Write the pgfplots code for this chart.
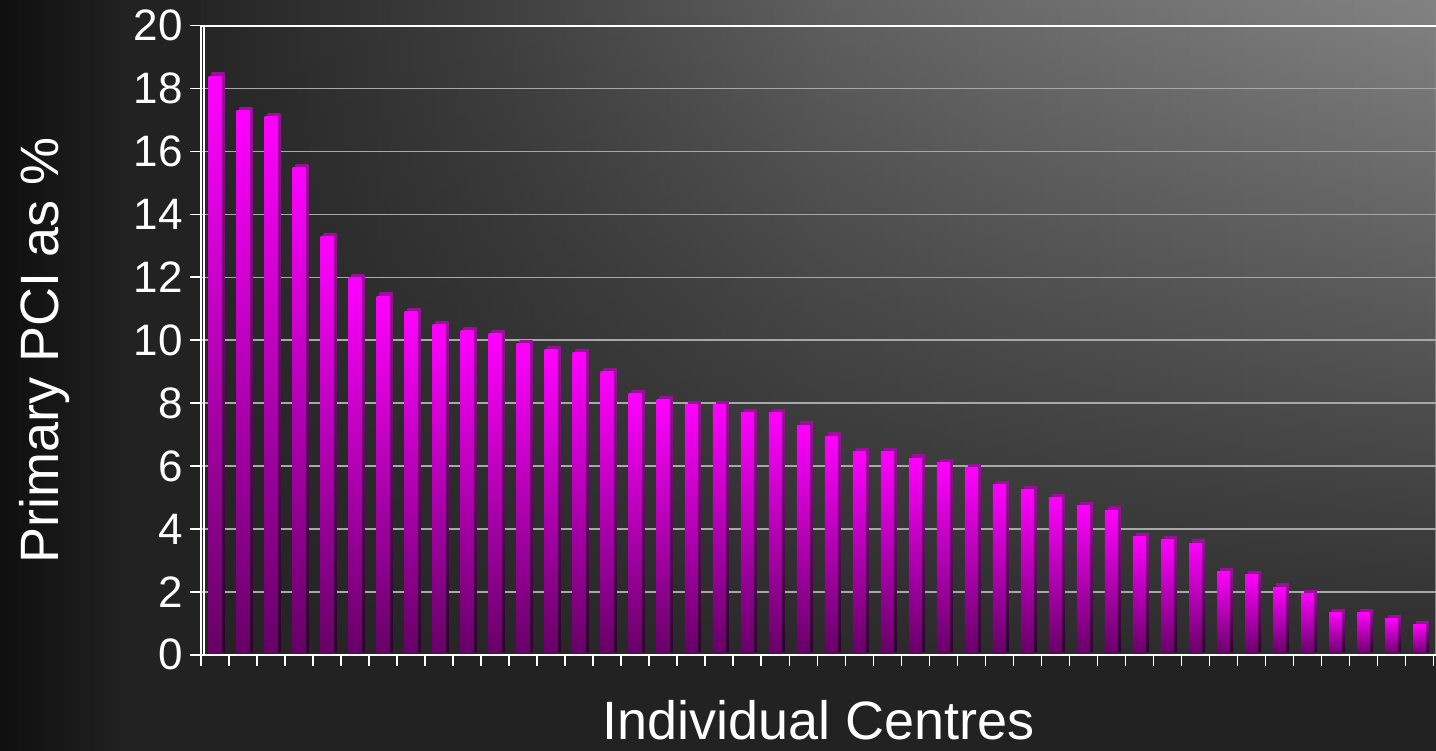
\documentclass[border=0pt]{standalone}
\usepackage{pgfplots}
\pgfplotsset{compat=1.18}
\usepackage{pgfplotstable}
\usetikzlibrary{fadings}
\usepackage{fontspec}
\setmainfont{Liberation Sans}

\definecolor{pagebg}{HTML}{222222}
\definecolor{edgedark}{HTML}{0F0F0F}
\definecolor{gridgray}{HTML}{A8A8A8}
\definecolor{barhi}{HTML}{FF00FF}
\definecolor{barmid}{HTML}{C200C2}
\definecolor{barlo}{HTML}{660066}
\definecolor{capc}{HTML}{9A109A}
\definecolor{sidelo}{HTML}{2A002A}
\definecolor{hA}{HTML}{262626}
\definecolor{hB}{HTML}{404040}
\definecolor{hC}{HTML}{606060}
\definecolor{hD}{HTML}{6C6C6C}
\definecolor{hE}{HTML}{838383}
\definecolor{lowshade}{HTML}{242424}

% light from the right, darker towards the floor
\pgfdeclarehorizontalshading{hglow}{100bp}{color(0bp)=(hA); color(25bp)=(hA); color(37bp)=(hB); color(50.5bp)=(hC); color(58bp)=(hD); color(75bp)=(hE); color(100bp)=(hE)}
\tikzfading[name=lowdark, top color=transparent!100, middle color=transparent!90, bottom color=transparent!10]

% primary PCI share per centre, sorted
\pgfplotstableread{
x  pct
1  18.4
2  17.3
3  17.1
4  15.5
5  13.3
6  12.0
7  11.4
8  10.9
9  10.5
10 10.3
11 10.2
12 9.9
13 9.7
14 9.6
15 9.0
16 8.3
17 8.1
18 7.95
19 7.95
20 7.7
21 7.7
22 7.3
23 6.95
24 6.45
25 6.45
26 6.25
27 6.1
28 5.95
29 5.4
30 5.25
31 5.0
32 4.75
33 4.6
34 3.75
35 3.65
36 3.55
37 2.65
38 2.55
39 2.15
40 1.95
41 1.35
42 1.35
43 1.15
44 0.95
}\centres

\begin{document}
\begin{tikzpicture}
\useasboundingbox (-100.5pt,-48pt) rectangle (617.5pt,327.35pt);
\fill[pagebg] (-100.5pt,-48pt) rectangle (617.5pt,327.35pt);
\shade[left color=edgedark,right color=pagebg] (-100.5pt,-48pt) rectangle (-35pt,327.35pt);
\shade[shading=hglow] (0pt,0pt) rectangle (617.5pt,327.35pt);
\fill[lowshade, path fading=lowdark] (0pt,0pt) rectangle (617.5pt,327.35pt);
\begin{axis}[
    at={(0pt,0pt)}, anchor=south west,
    scale only axis,
    width=618pt, height=314.5pt,
    xmin=0.5, xmax=44.62,
    ymin=0, ymax=20,
    clip=false,
    ytick={0,2,...,20},
    xtick={0.5,1.5,...,44.5},
    xticklabels={},
    tick pos=left,
    tick align=outside,
    major tick length=5.5pt,
    tick style={white, line width=0.8pt},
    axis line style={white, line width=0.9pt},
    ymajorgrids,
    grid style={gridgray, line width=0.7pt},
    /pgf/number format/assume math mode=true,
    tick label style={font=\fontsize{22}{26}\selectfont, text=white},
    yticklabel style={anchor=east, inner sep=0pt, xshift=-3.5pt},
    every axis x label/.style={at={(axis description cs:0.5,0)}, anchor=base, inner sep=0pt,
      yshift=-42.5pt, font=\fontsize{27}{32}\selectfont, text=white},
    every axis y label/.style={at={(axis description cs:-0.1149,0.483)}, anchor=base, rotate=90,
      font=\fontsize{27}{32}\selectfont, text=white},
    xlabel={Individual Centres},
    ylabel={Primary PCI as \%},
  ]
  % one plot per centre so that every bar gets its own gradient
  \pgfplotsinvokeforeach{1,...,44}{
    % depth of the bar (side and top faces)
    \addplot[ybar, bar width=6.5pt, bar shift=1.5pt, yshift=1.6pt, draw=none,
      top color=capc, bottom color=sidelo,
      restrict x to domain=#1:#1] table[x=x, y=pct] {\centres};
    % front face
    \addplot[ybar, bar width=6.5pt, bar shift=0pt, draw=none,
      top color=barhi, middle color=barmid, bottom color=barlo,
      restrict x to domain=#1:#1] table[x=x, y=pct] {\centres};
  }
  \draw[white, line width=0.9pt] (rel axis cs:0,0) -- (rel axis cs:1,0);
  \draw[white, line width=0.8pt] ([xshift=1.6pt]rel axis cs:0,0) -- ([xshift=1.6pt]rel axis cs:0,1);
\end{axis}
\end{tikzpicture}
\end{document}
